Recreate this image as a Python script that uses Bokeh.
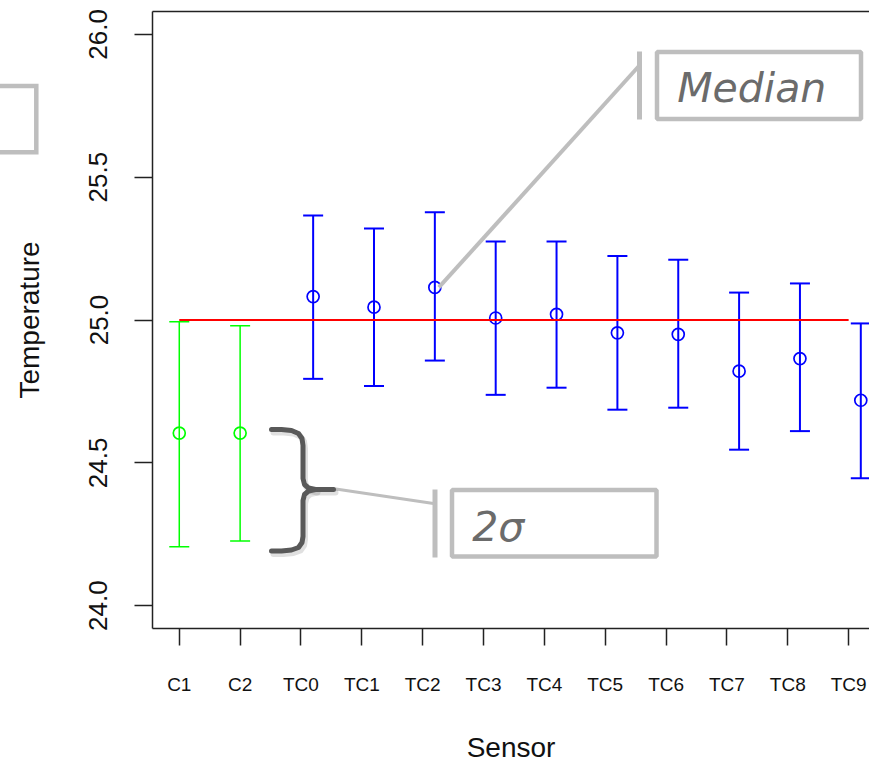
import numpy as np
from bokeh.plotting import figure
from bokeh.models import (ColumnDataSource, Whisker, TeeHead, FixedTicker, Range1d,
                          BoxAnnotation, Label, LinearAxis, PrintfTickFormatter)
from bokeh.embed import file_html
from bokeh.resources import INLINE

# ---------------- data ----------------
sensors = ["C1", "C2", "TC0", "TC1", "TC2", "TC3", "TC4", "TC5", "TC6", "TC7", "TC8", "TC9"]
median = [24.604, 24.604, 25.082, 25.045, 25.114, 25.007, 25.020, 24.955, 24.950, 24.821, 24.865, 24.719]
upper = [24.994, 24.980, 25.366, 25.320, 25.377, 25.275, 25.275, 25.224, 25.211, 25.096, 25.128, 24.988]
lower = [24.206, 24.226, 24.794, 24.769, 24.858, 24.738, 24.763, 24.686, 24.693, 24.546, 24.611, 24.446]
reference = 25.0
y_ticks = [24.0, 24.5, 25.0, 25.5, 26.0]

# ---------------- geometry / style ----------------
W, H = 869, 766
FL, FT, FB = 152, 11, 138          # frame borders (px)
XR = (0.56, 12.343)
YR = (23.92, 26.08)
fw, fh = W - FL, H - FT - FB


def X(px):
    return XR[0] + (px - FL) * (XR[1] - XR[0]) / fw


def Y(py):
    return YR[1] - (py - FT) * (YR[1] - YR[0]) / fh


idx = np.arange(1, len(sensors) + 1, dtype=float)
is_c = np.array([s.startswith("C") for s in sensors])
xpos = idx + np.where(is_c, 0.0, 0.2)

GREEN, BLUE, RED = "#00FF00", "#0000FF", "#FF0000"
GRAY, DARK = "#BEBEBE", "#595959"
AX = "#222222"

p = figure(width=W, height=H, x_range=Range1d(*XR), y_range=Range1d(*YR),
           output_backend="svg", toolbar_location=None,
           min_border_left=FL, min_border_right=0, min_border_top=FT, min_border_bottom=FB)
p.grid.visible = False
p.outline_line_color = None
p.background_fill_color = "white"
p.border_fill_color = "white"

# x axis
xa = p.xaxis[0]
xa.ticker = FixedTicker(ticks=list(idx))
xa.major_label_overrides = {float(i): s for i, s in zip(idx, sensors)}
xa.major_label_overrides.update({int(i): s for i, s in zip(idx, sensors)})
xa.minor_tick_line_color = None
xa.major_tick_in = 0
xa.major_tick_out = 17
xa.major_tick_line_width = 1.5
xa.major_tick_line_color = AX
xa.axis_line_color = AX
xa.axis_line_width = 1.5
xa.major_label_text_font = "Liberation Sans"
xa.major_label_text_font_size = "19px"
xa.major_label_text_color = "#111111"
xa.major_label_standoff = 28
xa.axis_label = "Sensor"
xa.axis_label_text_font = "Liberation Sans"
xa.axis_label_text_font_style = "normal"
xa.axis_label_text_font_size = "28px"
xa.axis_label_text_color = "#111111"
xa.axis_label_standoff = 34

# y axis
ya = p.yaxis[0]
ya.ticker = FixedTicker(ticks=y_ticks)
ya.formatter = PrintfTickFormatter(format="%.1f")
ya.minor_tick_line_color = None
ya.major_tick_in = 0
ya.major_tick_out = 18
ya.major_tick_line_width = 1.5
ya.major_tick_line_color = AX
ya.axis_line_color = AX
ya.axis_line_width = 1.5
ya.major_label_orientation = "vertical"
ya.major_label_text_font = "Liberation Sans"
ya.major_label_text_font_size = "26px"
ya.major_label_text_color = "#111111"
ya.major_label_standoff = 27
ya.axis_label = "Temperature"
ya.axis_label_text_font = "Liberation Sans"
ya.axis_label_text_font_style = "normal"
ya.axis_label_text_font_size = "28px"
ya.axis_label_text_color = "#111111"
ya.axis_label_standoff = 42

# top border line (box)
top = LinearAxis(ticker=FixedTicker(ticks=[]), major_tick_out=0, major_tick_in=0,
                 minor_tick_line_color=None, major_label_standoff=0,
                 major_label_text_font_size="0px", axis_line_color=AX, axis_line_width=1.5)
p.add_layout(top, "above")

# ---------------- data marks ----------------
for grp, col, lw in [(is_c, GREEN, 1.5), (~is_c, BLUE, 2.0)]:
    src = ColumnDataSource(dict(x=xpos[grp], med=np.array(median)[grp],
                                up=np.array(upper)[grp], lo=np.array(lower)[grp]))
    w = Whisker(source=src, base="x", upper="up", lower="lo", line_color=col, line_width=lw,
                upper_head=TeeHead(size=20, line_color=col, line_width=lw),
                lower_head=TeeHead(size=20, line_color=col, line_width=lw))
    p.add_layout(w)
    p.scatter("x", "med", source=src, marker="circle", size=12, fill_color=None,
              line_color=col, line_width=1.7)

p.segment(x0=[idx[0]], x1=[idx[-1]], y0=[reference], y1=[reference], line_color=RED, line_width=2)

# ---------------- callout annotations ----------------
def box(l, r, t, b, **kw):
    return BoxAnnotation(left=X(l), right=X(r), top=Y(t), bottom=Y(b),
                         fill_color=None, fill_alpha=0, line_color=GRAY, line_alpha=1.0,
                         line_width=4.5, **kw)


# Median callout
p.add_layout(box(656.5, 860.5, 51.5, 118.5))
p.segment(x0=[X(639)], x1=[X(639)], y0=[Y(51)], y1=[Y(119)], line_color=GRAY, line_width=5)
p.segment(x0=[xpos[4] + X(4) - X(0)], y0=[median[4]], x1=[X(638)], y1=[Y(66)],
          line_color=GRAY, line_width=4)
p.add_layout(Label(x=X(676.7), y=Y(102.7 - 15), text="Median", text_font="DejaVu Sans",
                   text_font_style="italic", text_font_size="41px", text_color="#6b6b6b",
                   text_baseline="alphabetic", text_align="left"))

# 2 sigma callout
p.add_layout(box(451.5, 656, 489.5, 556))
p.segment(x0=[X(434.5)], x1=[X(434.5)], y0=[Y(489)], y1=[Y(557)], line_color=GRAY, line_width=5)
p.segment(x0=[X(332)], y0=[Y(488)], x1=[X(433)], y1=[Y(503)], line_color=GRAY, line_width=3)
p.add_layout(Label(x=X(471.7), y=Y(540 - 14), text="2σ", text_font="DejaVu Sans",
                   text_font_style="italic", text_font_size="41px", text_color="#6b6b6b",
                   text_baseline="alphabetic", text_align="left"))

# curly bracket
up_arm = [(271, 429), (281, 429), (291, 430), (298, 433), (301.5, 438), (302.5, 445),
          (302.5, 478), (304, 484), (308, 487.5), (315, 489), (333, 489)]
lo_arm = [(315, 489), (308, 490.5), (304, 494), (302.5, 500), (302.5, 536), (301.5, 542),
          (298, 547), (291, 549.5), (281, 550.5), (271, 550.5)]
for dx, dy, col, alpha, lw in [(2, 3, "#000000", 0.12, 6), (0, 0, DARK, 1.0, 5)]:
    p.multi_line(xs=[[X(a + dx) for a, b in up_arm], [X(a + dx) for a, b in lo_arm]],
                 ys=[[Y(b + dy) for a, b in up_arm], [Y(b + dy) for a, b in lo_arm]],
                 line_color=col, line_alpha=alpha, line_width=lw,
                 line_join="round", line_cap="round")

# partially visible (cut-off) callout box at top-left, outside the plot frame
tl = [(-10, 85.6), (35.8, 85.6), (35.8, 151.7), (-10, 151.7)]
p.line(x=[X(a) for a, b in tl], y=[Y(b) for a, b in tl], line_color=GRAY, line_width=4.5,
       line_join="miter", level="overlay")

open("out.html", "w").write(file_html(p, INLINE))
